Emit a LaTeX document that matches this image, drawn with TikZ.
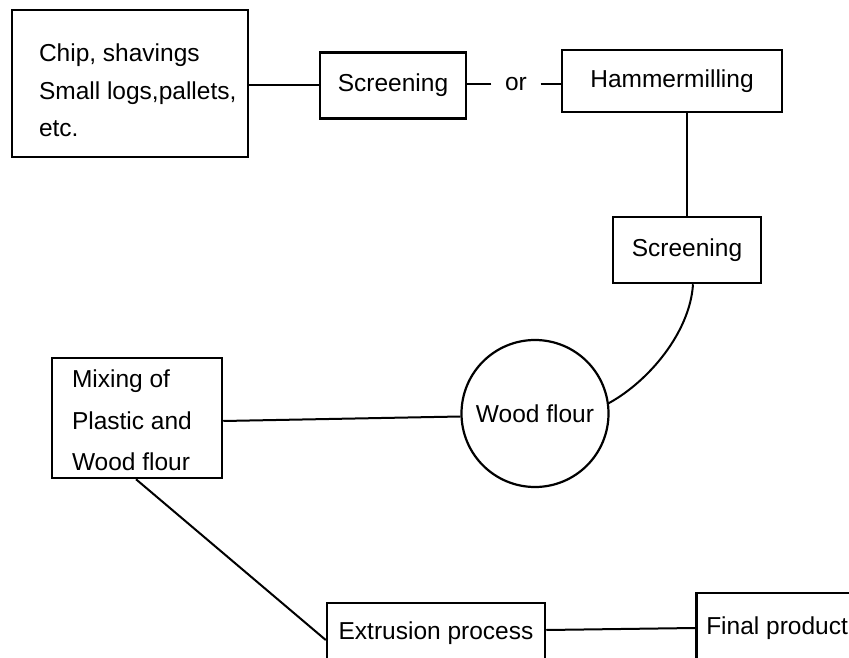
\documentclass[tikz,border=0pt]{standalone}
\usepackage{fontspec}
\setmainfont{Liberation Sans}
\frenchspacing
\begin{document}
\begin{tikzpicture}[x=1pt,y=-1pt,
  font=\fontsize{24.5}{28}\selectfont,
  box/.style={draw, line width=2.5pt, rectangle, inner sep=0pt},
  conn/.style={line width=2pt},
  lbl/.style={inner xsep=13.5pt, inner ysep=0pt}]
\path[use as bounding box] (0,0) rectangle (849,658);
\clip (0,0) rectangle (849,658);
\fill[white] (0,0) rectangle (849,658);

\node[box, minimum width=236pt, minimum height=147pt, text width=182pt, align=flush left,
      inner xsep=27pt, font=\fontsize{24.5}{37.5}\selectfont] (chip) at (130,83.5)
  {\rule{0pt}{32pt}Chip, shavings\\ \mbox{Small logs,pallets,}\\ etc.};
\node[box, minimum width=146pt, minimum height=66pt] (scr1) at (393,85.5) {Screening};
\node[lbl] (or) at (516,84) {or};
\node[box, minimum width=220pt, minimum height=62pt] (ham) at (672,81) {Hammermilling};
\node[box, minimum width=148pt, minimum height=66pt] (scr2) at (687,250) {Screening};
\node[draw, circle, line width=2.2pt, minimum size=147pt, inner sep=0pt] (wf) at (535,413.5) {Wood flour};
\node[box, minimum width=170pt, minimum height=120pt, text width=130pt, align=flush left,
      inner xsep=20pt, font=\fontsize{24.5}{41.5}\selectfont] (mix) at (137,418)
  {\rule{0pt}{23pt}Mixing of\\ Plastic and\\ Wood flour};
\node[box, minimum width=218pt, minimum height=60pt] (ext) at (436,633) {Extrusion process};
\node[box, minimum height=70pt, text width=160pt, align=flush left, inner xsep=10pt,
      anchor=west] (fin) at (695,628) {Final product};

\draw[conn] (scr1.west) -- (scr1.west -| chip.east);
\draw[conn] (or.west) -- (or.west -| scr1.east);
\draw[conn] (or.east) -- (or.east -| ham.west);
\draw[conn] (scr2.north) -- (scr2.north |- ham.south);
\draw[conn] ([xshift=6pt]scr2.south) .. controls +(-3,48) and +(40,-22) .. (wf.8);
\draw[conn] ([yshift=-3pt]mix.east) -- ([yshift=-3pt]wf.west);
\draw[conn] ([xshift=-1pt]mix.south) -- ([yshift=-7pt]ext.west);
\draw[conn] ([yshift=3pt]ext.east) -- (fin.west);
\end{tikzpicture}
\end{document}
